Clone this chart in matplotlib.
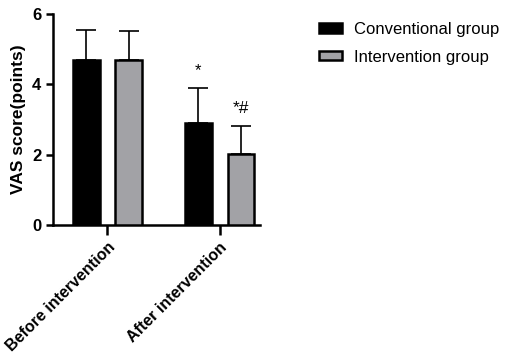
import numpy as np
import matplotlib.pyplot as plt

plt.rcParams['font.family'] = ['Liberation Sans', 'DejaVu Sans']

groups = ['Before intervention', 'After intervention']
series = ['Conventional group', 'Intervention group']
means_conv = [4.69, 2.91]
sd_conv = [0.85, 0.97]
means_int = [4.70, 2.02]
sd_int = [0.81, 0.79]
marks_conv = ['', '*']
marks_int = ['', '*#']

fig = plt.figure(figsize=(5.1, 3.58), dpi=100)
ax = fig.add_axes([0.104, 0.372, 0.406, 0.589])

x = np.arange(len(groups))
w = 0.24
off = 0.19
b1 = ax.bar(x - off, means_conv, w, color='black', edgecolor='black', linewidth=1.8,
            yerr=[np.zeros(2), sd_conv], error_kw=dict(ecolor='black', elinewidth=1.2, capsize=7, capthick=1.2),
            label=series[0], zorder=3)
b2 = ax.bar(x + off, means_int, w, color='#a2a2a6', edgecolor='black', linewidth=1.8,
            yerr=[np.zeros(2), sd_int], error_kw=dict(ecolor='black', elinewidth=1.2, capsize=7, capthick=1.2),
            label=series[1], zorder=3)

for i in range(len(groups)):
    if marks_conv[i]:
        ax.text(x[i] - off, means_conv[i] + sd_conv[i] + 0.3, marks_conv[i], ha='center', va='bottom', fontsize=12)
    if marks_int[i]:
        ax.text(x[i] + off, means_int[i] + sd_int[i] + 0.3, marks_int[i], ha='center', va='bottom', fontsize=12.5)

ax.set_xlim(-0.484, 1.36)
ax.set_ylim(0, 6)
ax.set_yticks([0, 2, 4, 6])
ax.set_xticks(x)
ax.set_xticklabels(groups, rotation=45, ha='right', rotation_mode='anchor', fontsize=11.5, fontweight='bold')
for t in ax.get_yticklabels():
    t.set_fontweight('bold')
    t.set_fontsize(12)
ax.set_ylabel('VAS score(points)', fontsize=12.5, fontweight='bold')
for s in ['top', 'right']:
    ax.spines[s].set_visible(False)
for s in ['left', 'bottom']:
    ax.spines[s].set_linewidth(1.8)
ax.tick_params(width=1.8, length=5)
ax.tick_params(axis='x', length=7)

fig.legend(handles=[b1, b2], labels=series, loc='upper left', bbox_to_anchor=(0.596, 0.98),
           frameon=False, fontsize=12, labelspacing=0.75, handlelength=1.38, handleheight=0.5,
           handletextpad=0.72)

fig.savefig('out.png', dpi=100)
